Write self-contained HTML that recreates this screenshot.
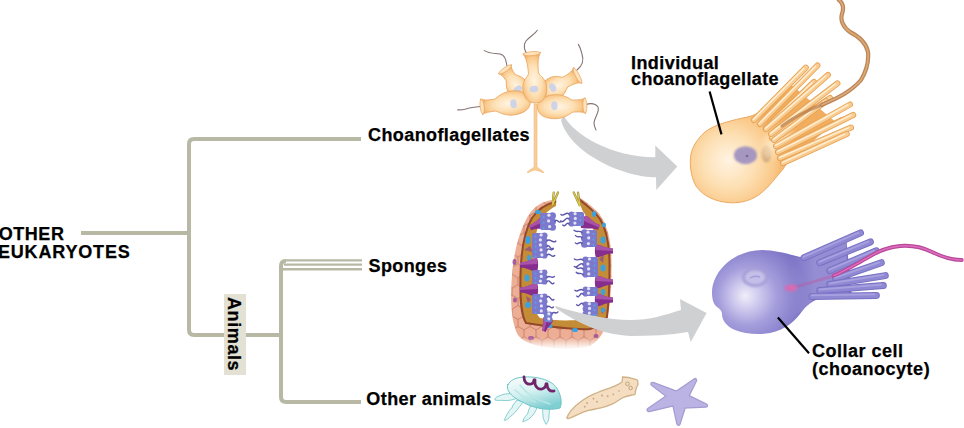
<!DOCTYPE html>
<html><head><meta charset="utf-8">
<style>
html,body{margin:0;padding:0;background:#fff;width:964px;height:428px;overflow:hidden;}
#s{position:absolute;left:0;top:0;}
.t{font-family:"Liberation Sans",sans-serif;font-weight:bold;font-size:18px;letter-spacing:0.1px;fill:#000;stroke:#000;stroke-width:0.25px;}
</style></head><body>
<svg id="s" width="964" height="428" viewBox="0 0 964 428">
<defs>
<radialGradient id="og" gradientUnits="userSpaceOnUse" cx="730" cy="162" r="58" fx="728" fy="160">
<stop offset="0" stop-color="#fff3e2"/><stop offset="0.45" stop-color="#fde0b4"/><stop offset="0.78" stop-color="#fac98a"/><stop offset="1" stop-color="#f2ad5e"/>
</radialGradient>
<radialGradient id="pg" gradientUnits="userSpaceOnUse" cx="750" cy="296" r="58" fx="745" fy="296">
<stop offset="0" stop-color="#f0eef9"/><stop offset="0.22" stop-color="#d0cbee"/><stop offset="0.5" stop-color="#a59edc"/><stop offset="0.8" stop-color="#8a82cd"/><stop offset="1" stop-color="#7a72c4"/>
</radialGradient>
<filter id="bl" x="-50%" y="-50%" width="200%" height="200%"><feGaussianBlur stdDeviation="1.1"/></filter>
<radialGradient id="cg" cx="0.5" cy="0.55" r="0.55">
<stop offset="0" stop-color="#fff4e4"/><stop offset="0.55" stop-color="#fde0b4"/><stop offset="0.85" stop-color="#f9c98c"/><stop offset="1" stop-color="#f2b26c"/>
</radialGradient>
<linearGradient id="cg2" x1="0" y1="0" x2="1" y2="0">
<stop offset="0" stop-color="#f6be7c"/><stop offset="0.5" stop-color="#fde0b4"/><stop offset="1" stop-color="#f6be7c"/>
</linearGradient>
<pattern id="hex" width="12" height="20.8" patternUnits="userSpaceOnUse" x="2" y="4">
<rect width="12" height="20.8" fill="#ecae94"/>
<path d="M6 0 L12 3.46 L12 10.39 L6 13.86 L0 10.39 L0 3.46 Z M6 13.86 L6 20.8" stroke="#c97c6a" stroke-width="0.9" fill="none"/>
</pattern>
<linearGradient id="fade" x1="0" y1="0" x2="0" y2="1">
<stop offset="0" stop-color="#fff" stop-opacity="0"/><stop offset="0.6" stop-color="#fff" stop-opacity="0.85"/><stop offset="1" stop-color="#fff" stop-opacity="1"/>
</linearGradient>
<linearGradient id="jg" x1="0.15" y1="0.1" x2="0.55" y2="1">
<stop offset="0" stop-color="#f2fafa"/><stop offset="0.45" stop-color="#d4f0f0"/><stop offset="1" stop-color="#7fcfd2"/>
</linearGradient>
<radialGradient id="neckg" cx="0.5" cy="0.5" r="0.5">
<stop offset="0" stop-color="#fff0d8" stop-opacity="0.95"/><stop offset="0.6" stop-color="#fde2b8" stop-opacity="0.6"/><stop offset="1" stop-color="#fcd8a8" stop-opacity="0"/>
</radialGradient>
<linearGradient id="palmg" gradientUnits="userSpaceOnUse" x1="790" y1="0" x2="840" y2="0">
<stop offset="0" stop-color="#9891d5" stop-opacity="0"/><stop offset="0.5" stop-color="#9891d5" stop-opacity="0.9"/><stop offset="1" stop-color="#948dd4" stop-opacity="1"/>
</linearGradient>
</defs>
<!-- tree -->
<g fill="none" stroke="#b8b9a5" stroke-width="4" stroke-linecap="butt">
<line x1="81" y1="233" x2="189" y2="233"/>
<path d="M361 139 H194 Q189 139 189 144 V330 Q189 335 194 335 H281"/>
<path d="M361 402 H286 Q281 402 281 397 V266 Q281 261 286 261"/>
</g>
<g fill="none" stroke="#b8b9a5" stroke-width="2.4">
<path d="M362 260.4 H286 Q281 260.4 281 266"/>
<line x1="284" y1="264.6" x2="362" y2="264.6"/>
<line x1="283" y1="269.2" x2="362" y2="269.2"/>
</g>
<rect x="224" y="294" width="22" height="81" fill="#e2e1d3"/>
<!-- sponge -->
<g id="sponge">
<path d="M553 200 C543 201 534 206 528 216 C520 230 514 250 512 275 C510 300 511 322 518 335 C526 347 560 352 590 346 C600 340 606 330 607.5 317 C611 300 611.5 285 611.5 270 C612 245 609 228 600 215 C593 206 584 201 578 196 Z" fill="url(#hex)"/>
<path d="M555 202 C546 204 538 209 532 218 C525 230 521 250 520.5 275 C520 300 521 315 526 323 C545 326 575 330 590 329 C600 326 604 322 607 317 C609 300 609.5 285 609.5 270 C610 245 607 230 600 219 C593 209 584 204 578 198 Z" fill="#c48c36" stroke="#94482a" stroke-width="2"/>
<g fill="#9a4e9c" opacity="0.85">
<ellipse cx="514.5" cy="262" rx="2" ry="3"/><ellipse cx="515" cy="300" rx="2" ry="2.5"/><ellipse cx="531" cy="338" rx="3" ry="2"/><ellipse cx="596" cy="336" rx="2.5" ry="2"/>
</g>
<g fill="#8a4a8c" opacity="0.7">
<path d="M524 250 l6 -4 l3 6 z"/><path d="M526 296 l5 3 l-3 5 z"/><path d="M604 255 l-5 4 l4 4 z"/><path d="M606 310 l-5 -2 l1 6 z"/>
</g>
<g fill="#3aa2e2">
<ellipse cx="528" cy="240" rx="2.6" ry="4"/><ellipse cx="527" cy="278" rx="2.5" ry="3.5"/><ellipse cx="528" cy="305" rx="3" ry="3"/>
<ellipse cx="538" cy="212" rx="3" ry="2"/><ellipse cx="603" cy="240" rx="2.5" ry="3.5"/><ellipse cx="603" cy="268" rx="2.5" ry="3.5"/><ellipse cx="603" cy="292" rx="2.2" ry="3"/><ellipse cx="594" cy="214" rx="2" ry="3"/>
<ellipse cx="575" cy="330" rx="3" ry="2"/><ellipse cx="529" cy="258" rx="2" ry="3"/><ellipse cx="530" cy="288" rx="2" ry="2.5"/><ellipse cx="604" cy="225" rx="2" ry="2.5"/><ellipse cx="603" cy="310" rx="2" ry="2.5"/><ellipse cx="550" cy="326" rx="2.5" ry="2"/>
</g>
<path d="M557 188 L556 206 C548 210 542 216 539 224 C535 234 533 250 533 280 C533 300 534 312 540 318 C555 321 580 322 597 316 C598 300 598 270 597 248 C596 232 590 220 584 213 C581 208 579 204 578 188 Z" fill="#fff"/>
<g transform="rotate(-20 546 222)"><path d="M529.0 219.5 C537.5 219.5 541.8 215.0 547.0 215.0 C548.5 218.5 548.5 225.5 547.0 229.0 C541.8 229.0 537.5 224.5 529.0 224.5 Z" fill="#862e8e"/><path d="M529.0 219.5 C537.5 219.5 541.8 215.0 547.0 215.0 L547.5 221.0 L529.0 222.0 Z" fill="#a852aa"/></g>
<g><path d="M520.0 262.5 C528.0 262.5 532.0 258.0 537.0 258.0 C538.5 261.5 538.5 268.5 537.0 272.0 C532.0 272.0 528.0 267.5 520.0 267.5 Z" fill="#862e8e"/><path d="M520.0 262.5 C528.0 262.5 532.0 258.0 537.0 258.0 L537.5 264.0 L520.0 265.0 Z" fill="#a852aa"/></g>
<g><path d="M520.0 287.5 C528.0 287.5 532.0 283.0 537.0 283.0 C538.5 286.5 538.5 293.5 537.0 297.0 C532.0 297.0 528.0 292.5 520.0 292.5 Z" fill="#862e8e"/><path d="M520.0 287.5 C528.0 287.5 532.0 283.0 537.0 283.0 L537.5 289.0 L520.0 290.0 Z" fill="#a852aa"/></g>
<g transform="rotate(20 584 222)"><path d="M600.0 219.5 C592.0 219.5 588.0 215.5 583.0 215.5 C581.5 218.8 581.5 225.2 583.0 228.5 C588.0 228.5 592.0 224.5 600.0 224.5 Z" fill="#862e8e"/><path d="M600.0 219.5 C592.0 219.5 588.0 215.5 583.0 215.5 L582.5 221.0 L600.0 222.0 Z" fill="#a852aa"/></g>
<g><path d="M613.0 248.5 C605.0 248.5 601.0 244.5 596.0 244.5 C594.5 247.8 594.5 254.2 596.0 257.5 C601.0 257.5 605.0 253.5 613.0 253.5 Z" fill="#862e8e"/><path d="M613.0 248.5 C605.0 248.5 601.0 244.5 596.0 244.5 L595.5 250.0 L613.0 251.0 Z" fill="#a852aa"/></g>
<g><path d="M613.0 279.5 C605.0 279.5 601.0 275.5 596.0 275.5 C594.5 278.8 594.5 285.2 596.0 288.5 C601.0 288.5 605.0 284.5 613.0 284.5 Z" fill="#862e8e"/><path d="M613.0 279.5 C605.0 279.5 601.0 275.5 596.0 275.5 L595.5 281.0 L613.0 282.0 Z" fill="#a852aa"/></g>
<g><path d="M613.0 297.5 C605.0 297.5 601.0 293.5 596.0 293.5 C594.5 296.8 594.5 303.2 596.0 306.5 C601.0 306.5 605.0 302.5 613.0 302.5 Z" fill="#862e8e"/><path d="M613.0 297.5 C605.0 297.5 601.0 293.5 596.0 293.5 L595.5 299.0 L613.0 300.0 Z" fill="#a852aa"/></g>
<g transform="rotate(-70 548 320)"><path d="M536.0 318.0 C542.0 318.0 545.0 315.0 549.0 315.0 C550.5 317.5 550.5 322.5 549.0 325.0 C545.0 325.0 542.0 322.0 536.0 322.0 Z" fill="#862e8e"/><path d="M536.0 318.0 C542.0 318.0 545.0 315.0 549.0 315.0 L549.5 319.0 L536.0 320.0 Z" fill="#a852aa"/></g>
<rect x="540.0" y="213.0" width="12.5" height="17.0" rx="2" fill="#7c78cc"/>
<circle cx="552.5" cy="215.8" r="3.5" fill="#7c78cc"/>
<circle cx="552.5" cy="221.5" r="3.5" fill="#7c78cc"/>
<circle cx="552.5" cy="227.2" r="3.5" fill="#7c78cc"/>
<circle cx="548.9" cy="215.2" r="1.6" fill="#e2e2f6"/>
<circle cx="543.5" cy="217.0" r="1.1" fill="#5e9fe0"/>
<circle cx="548.6" cy="220.9" r="1.6" fill="#e2e2f6"/>
<circle cx="543.5" cy="222.7" r="1.1" fill="#5e9fe0"/>
<circle cx="549.6" cy="226.6" r="1.6" fill="#e2e2f6"/>
<circle cx="543.5" cy="228.4" r="1.1" fill="#5e9fe0"/>
<path d="M555.0 221.2 C557.5 218.2 558.7 224.3 561.2 221.3" stroke="#5c56aa" stroke-width="1.4" fill="none" stroke-linecap="round"/>
<rect x="532.0" y="233.0" width="12.5" height="25.0" rx="2" fill="#7c78cc"/>
<circle cx="544.5" cy="235.5" r="3.1" fill="#7c78cc"/>
<circle cx="544.5" cy="240.5" r="3.1" fill="#7c78cc"/>
<circle cx="544.5" cy="245.5" r="3.1" fill="#7c78cc"/>
<circle cx="544.5" cy="250.5" r="3.1" fill="#7c78cc"/>
<circle cx="544.5" cy="255.5" r="3.1" fill="#7c78cc"/>
<circle cx="541.1" cy="234.9" r="1.6" fill="#e2e2f6"/>
<circle cx="535.5" cy="236.7" r="1.1" fill="#5e9fe0"/>
<circle cx="540.4" cy="239.9" r="1.6" fill="#e2e2f6"/>
<circle cx="535.5" cy="241.7" r="1.1" fill="#5e9fe0"/>
<circle cx="540.4" cy="244.9" r="1.6" fill="#e2e2f6"/>
<circle cx="535.5" cy="246.7" r="1.1" fill="#5e9fe0"/>
<circle cx="541.1" cy="249.9" r="1.6" fill="#e2e2f6"/>
<circle cx="535.5" cy="251.7" r="1.1" fill="#5e9fe0"/>
<circle cx="541.9" cy="254.9" r="1.6" fill="#e2e2f6"/>
<circle cx="535.5" cy="256.7" r="1.1" fill="#5e9fe0"/>
<path d="M547.0 240.8 C550.5 237.8 552.3 244.1 555.8 241.1" stroke="#5c56aa" stroke-width="1.4" fill="none" stroke-linecap="round"/>
<path d="M547.0 246.5 C549.5 243.5 550.7 251.2 553.1 248.2" stroke="#5c56aa" stroke-width="1.4" fill="none" stroke-linecap="round"/>
<path d="M547.0 249.8 C549.5 246.8 550.8 251.8 553.4 248.8" stroke="#5c56aa" stroke-width="1.4" fill="none" stroke-linecap="round"/>
<path d="M547.0 254.9 C550.1 251.9 551.6 258.6 554.7 255.6" stroke="#5c56aa" stroke-width="1.4" fill="none" stroke-linecap="round"/>
<rect x="532.0" y="270.0" width="12.5" height="14.0" rx="2" fill="#7c78cc"/>
<circle cx="544.5" cy="272.3" r="2.9" fill="#7c78cc"/>
<circle cx="544.5" cy="277.0" r="2.9" fill="#7c78cc"/>
<circle cx="544.5" cy="281.7" r="2.9" fill="#7c78cc"/>
<circle cx="541.0" cy="271.7" r="1.6" fill="#e2e2f6"/>
<circle cx="535.5" cy="273.5" r="1.1" fill="#5e9fe0"/>
<circle cx="541.3" cy="276.4" r="1.6" fill="#e2e2f6"/>
<circle cx="535.5" cy="278.2" r="1.1" fill="#5e9fe0"/>
<circle cx="540.4" cy="281.1" r="1.6" fill="#e2e2f6"/>
<circle cx="535.5" cy="282.9" r="1.1" fill="#5e9fe0"/>
<path d="M547.0 277.4 C549.9 274.4 551.4 279.4 554.3 276.4" stroke="#5c56aa" stroke-width="1.4" fill="none" stroke-linecap="round"/>
<path d="M547.0 281.6 C549.8 278.6 551.1 286.0 553.9 283.0" stroke="#5c56aa" stroke-width="1.4" fill="none" stroke-linecap="round"/>
<rect x="532.0" y="294.0" width="12.5" height="20.0" rx="2" fill="#7c78cc"/>
<circle cx="544.5" cy="296.5" r="3.1" fill="#7c78cc"/>
<circle cx="544.5" cy="301.5" r="3.1" fill="#7c78cc"/>
<circle cx="544.5" cy="306.5" r="3.1" fill="#7c78cc"/>
<circle cx="544.5" cy="311.5" r="3.1" fill="#7c78cc"/>
<circle cx="541.6" cy="295.9" r="1.6" fill="#e2e2f6"/>
<circle cx="535.5" cy="297.7" r="1.1" fill="#5e9fe0"/>
<circle cx="540.7" cy="300.9" r="1.6" fill="#e2e2f6"/>
<circle cx="535.5" cy="302.7" r="1.1" fill="#5e9fe0"/>
<circle cx="541.4" cy="305.9" r="1.6" fill="#e2e2f6"/>
<circle cx="535.5" cy="307.7" r="1.1" fill="#5e9fe0"/>
<circle cx="541.3" cy="310.9" r="1.6" fill="#e2e2f6"/>
<circle cx="535.5" cy="312.7" r="1.1" fill="#5e9fe0"/>
<path d="M547.0 297.0 C549.7 294.0 551.1 302.4 553.9 299.4" stroke="#5c56aa" stroke-width="1.4" fill="none" stroke-linecap="round"/>
<path d="M547.0 307.0 C549.6 304.0 550.9 310.0 553.5 307.0" stroke="#5c56aa" stroke-width="1.4" fill="none" stroke-linecap="round"/>
<rect x="571.5" y="212.0" width="12.5" height="14.0" rx="2" fill="#7c78cc"/>
<circle cx="571.5" cy="214.3" r="2.9" fill="#7c78cc"/>
<circle cx="571.5" cy="219.0" r="2.9" fill="#7c78cc"/>
<circle cx="571.5" cy="223.7" r="2.9" fill="#7c78cc"/>
<circle cx="575.1" cy="213.7" r="1.6" fill="#e2e2f6"/>
<circle cx="580.5" cy="215.5" r="1.1" fill="#5e9fe0"/>
<circle cx="575.3" cy="218.4" r="1.6" fill="#e2e2f6"/>
<circle cx="580.5" cy="220.2" r="1.1" fill="#5e9fe0"/>
<circle cx="574.9" cy="223.1" r="1.6" fill="#e2e2f6"/>
<circle cx="580.5" cy="224.9" r="1.1" fill="#5e9fe0"/>
<path d="M569.0 214.0 C565.8 211.0 564.1 217.4 560.9 214.4" stroke="#5c56aa" stroke-width="1.4" fill="none" stroke-linecap="round"/>
<path d="M569.0 218.9 C565.6 215.9 563.9 224.1 560.5 221.1" stroke="#5c56aa" stroke-width="1.4" fill="none" stroke-linecap="round"/>
<path d="M569.0 224.0 C566.5 221.0 565.3 228.0 562.8 225.0" stroke="#5c56aa" stroke-width="1.4" fill="none" stroke-linecap="round"/>
<rect x="584.5" y="230.0" width="12.5" height="17.0" rx="2" fill="#7c78cc"/>
<circle cx="584.5" cy="232.8" r="3.5" fill="#7c78cc"/>
<circle cx="584.5" cy="238.5" r="3.5" fill="#7c78cc"/>
<circle cx="584.5" cy="244.2" r="3.5" fill="#7c78cc"/>
<circle cx="588.0" cy="232.2" r="1.6" fill="#e2e2f6"/>
<circle cx="593.5" cy="234.0" r="1.1" fill="#5e9fe0"/>
<circle cx="588.7" cy="237.9" r="1.6" fill="#e2e2f6"/>
<circle cx="593.5" cy="239.7" r="1.1" fill="#5e9fe0"/>
<circle cx="588.4" cy="243.6" r="1.6" fill="#e2e2f6"/>
<circle cx="593.5" cy="245.4" r="1.1" fill="#5e9fe0"/>
<path d="M582.0 232.6 C578.8 229.6 577.2 233.2 574.0 230.2" stroke="#5c56aa" stroke-width="1.4" fill="none" stroke-linecap="round"/>
<path d="M582.0 237.8 C579.5 234.8 578.2 238.6 575.6 235.6" stroke="#5c56aa" stroke-width="1.4" fill="none" stroke-linecap="round"/>
<path d="M582.0 243.4 C579.3 240.4 578.0 245.9 575.3 242.9" stroke="#5c56aa" stroke-width="1.4" fill="none" stroke-linecap="round"/>
<rect x="585.5" y="257.0" width="12.5" height="20.0" rx="2" fill="#7c78cc"/>
<circle cx="585.5" cy="259.5" r="3.1" fill="#7c78cc"/>
<circle cx="585.5" cy="264.5" r="3.1" fill="#7c78cc"/>
<circle cx="585.5" cy="269.5" r="3.1" fill="#7c78cc"/>
<circle cx="585.5" cy="274.5" r="3.1" fill="#7c78cc"/>
<circle cx="589.5" cy="258.9" r="1.6" fill="#e2e2f6"/>
<circle cx="594.5" cy="260.7" r="1.1" fill="#5e9fe0"/>
<circle cx="587.9" cy="263.9" r="1.6" fill="#e2e2f6"/>
<circle cx="594.5" cy="265.7" r="1.1" fill="#5e9fe0"/>
<circle cx="588.6" cy="268.9" r="1.6" fill="#e2e2f6"/>
<circle cx="594.5" cy="270.7" r="1.1" fill="#5e9fe0"/>
<circle cx="588.8" cy="273.9" r="1.6" fill="#e2e2f6"/>
<circle cx="594.5" cy="275.7" r="1.1" fill="#5e9fe0"/>
<path d="M583.0 260.1 C579.6 257.1 577.8 262.0 574.4 259.0" stroke="#5c56aa" stroke-width="1.4" fill="none" stroke-linecap="round"/>
<path d="M583.0 264.2 C579.5 261.2 577.8 269.5 574.3 266.5" stroke="#5c56aa" stroke-width="1.4" fill="none" stroke-linecap="round"/>
<path d="M583.0 268.9 C580.3 265.9 579.0 270.5 576.3 267.5" stroke="#5c56aa" stroke-width="1.4" fill="none" stroke-linecap="round"/>
<path d="M583.0 274.7 C580.3 271.7 578.9 275.2 576.2 272.2" stroke="#5c56aa" stroke-width="1.4" fill="none" stroke-linecap="round"/>
<rect x="585.5" y="287.0" width="12.5" height="9.0" rx="2" fill="#7c78cc"/>
<circle cx="585.5" cy="289.2" r="2.8" fill="#7c78cc"/>
<circle cx="585.5" cy="293.8" r="2.8" fill="#7c78cc"/>
<circle cx="588.6" cy="288.6" r="1.6" fill="#e2e2f6"/>
<circle cx="594.5" cy="290.4" r="1.1" fill="#5e9fe0"/>
<circle cx="588.5" cy="293.1" r="1.6" fill="#e2e2f6"/>
<circle cx="594.5" cy="294.9" r="1.1" fill="#5e9fe0"/>
<path d="M583.0 290.2 C579.8 287.2 578.2 293.2 574.9 290.2" stroke="#5c56aa" stroke-width="1.4" fill="none" stroke-linecap="round"/>
<path d="M583.0 294.1 C580.5 291.1 579.3 299.1 576.8 296.1" stroke="#5c56aa" stroke-width="1.4" fill="none" stroke-linecap="round"/>
<rect x="585.5" y="302.0" width="12.5" height="14.0" rx="2" fill="#7c78cc"/>
<circle cx="585.5" cy="304.3" r="2.9" fill="#7c78cc"/>
<circle cx="585.5" cy="309.0" r="2.9" fill="#7c78cc"/>
<circle cx="585.5" cy="313.7" r="2.9" fill="#7c78cc"/>
<circle cx="589.3" cy="303.7" r="1.6" fill="#e2e2f6"/>
<circle cx="594.5" cy="305.5" r="1.1" fill="#5e9fe0"/>
<circle cx="589.5" cy="308.4" r="1.6" fill="#e2e2f6"/>
<circle cx="594.5" cy="310.2" r="1.1" fill="#5e9fe0"/>
<circle cx="589.3" cy="313.1" r="1.6" fill="#e2e2f6"/>
<circle cx="594.5" cy="314.9" r="1.1" fill="#5e9fe0"/>
<path d="M583.0 304.1 C580.5 301.1 579.2 307.8 576.7 304.8" stroke="#5c56aa" stroke-width="1.4" fill="none" stroke-linecap="round"/>
<rect x="544.0" y="312.0" width="5.5" height="10.0" rx="2" fill="#7c78cc"/>
<circle cx="549.5" cy="314.5" r="3.1" fill="#7c78cc"/>
<circle cx="549.5" cy="319.5" r="3.1" fill="#7c78cc"/>
<circle cx="548.8" cy="313.9" r="1.6" fill="#e2e2f6"/>
<circle cx="547.5" cy="315.7" r="1.1" fill="#5e9fe0"/>
<circle cx="548.7" cy="318.9" r="1.6" fill="#e2e2f6"/>
<circle cx="547.5" cy="320.7" r="1.1" fill="#5e9fe0"/>
<path d="M552.0 313.6 C554.4 310.6 555.6 314.9 558.0 311.9" stroke="#5c56aa" stroke-width="1.4" fill="none" stroke-linecap="round"/>
<g fill="none" stroke-linecap="round">
<path d="M553.7 192.5 L552.5 205 L558 192.5" stroke="#9a8a30" stroke-width="2.2"/>
<path d="M553.7 192.5 L552.5 205 L558 192.5" stroke="#dccc58" stroke-width="1.1"/>
<path d="M573.7 192.5 L580 206 L578 192.5" stroke="#9a8a30" stroke-width="2.2"/>
<path d="M573.7 192.5 L580 206 L578 192.5" stroke="#dccc58" stroke-width="1.1"/>
</g>
<rect x="500" y="337" width="120" height="17" fill="url(#fade)"/>
</g>
<!-- ART -->
<g id="arrows" fill="#cfd0d2">
<path d="M564 116 C574.4 135.3 611.8 157 655.3 157.3 L655.3 145.4 L677.3 166.6 L656.3 190 L656 177.3 C622.5 177.3 569.2 152.5 561 120 Z"/>
<path d="M555.6 306 C580 314 610 320 630 320 C650 320 665 315 681 310 L680 299 L706.6 313 L690.7 342 L688 332 C670 335 650 336 630 336 C600 334 578 323 555.6 308 Z"/>
</g>
<!-- colony -->
<g id="colony">
<g fill="none" stroke="#857472" stroke-width="1.1" stroke-linecap="round">
<path d="M528 56 C524 50 523 45 526 41 C529 37 535 34 537.3 30.3"/>
<path d="M507 66 C506 60 505 55 500 54 C495 53 490 54 484.3 50.6"/>
<path d="M577 70 C582 66 584 60 582 54 C581 50 580 47 578.4 44.4"/>
<path d="M484 106 C478 107 472 107 466 109 C462 110 460 110 457.7 109.9"/>
<path d="M585 105 C590 103 595 103 598 107 C600 112 594 118 594 123 C594 126 595 128 596 130"/>
</g>
<path d="M534 104 L534 167 C532 169 529 170 527 172.5 L529 172.5 C531 171 533 170.5 535.3 170 C537.5 170.5 539.5 171 542 172.5 L544 172.5 C542 170 539 169 537 167 L537 104 Z" fill="#f9cd96" stroke="#efb274" stroke-width="0.5"/>
<g transform="translate(518,88) rotate(-35)"><path d="M0 13 C7.9 13 10.5 5.9 10.5 0 C10.5 -7.2 7.0 -9.8 5.5 -12.7 C5.5 -18.4 6.0 -21.2 8 -23 L-8 -23 C-6.0 -21.2 -5.5 -18.4 -5.5 -12.7 C-7.0 -9.8 -10.5 -7.2 -10.5 0 C-10.5 5.9 -7.9 13 0 13 Z" fill="url(#cg)" stroke="#eba660" stroke-width="0.8"/><ellipse cx="0" cy="-22.5" rx="7.5" ry="2" fill="#fde2bb" stroke="#eba660" stroke-width="0.7"/><ellipse cx="-1" cy="1" rx="4.5" ry="3.2" fill="#c9d0ea" opacity="0.9"/></g>
<g transform="translate(554,88) rotate(62)"><path d="M0 13 C8.2 13 11 5.9 11 0 C11 -7.2 7.0 -9.8 5.5 -12.7 C5.5 -21.6 6.8 -24.8 9 -27 L-9 -27 C-6.8 -24.8 -5.5 -21.6 -5.5 -12.7 C-7.0 -9.8 -11 -7.2 -11 0 C-11 5.9 -8.2 13 0 13 Z" fill="url(#cg)" stroke="#eba660" stroke-width="0.8"/><ellipse cx="0" cy="-26.5" rx="8.5" ry="2" fill="#fde2bb" stroke="#eba660" stroke-width="0.7"/><ellipse cx="-1" cy="1" rx="4.5" ry="3.2" fill="#c9d0ea" opacity="0.9"/></g>
<g transform="translate(512.4,103) rotate(-97)"><path d="M0 18 C9.0 18 12 8.1 12 0 C12 -9.9 7.5 -13.5 6 -17.6 C6 -24.8 6.0 -28.5 8 -31 L-8 -31 C-6.0 -28.5 -6 -24.8 -6 -17.6 C-7.5 -13.5 -12 -9.9 -12 0 C-12 8.1 -9.0 18 0 18 Z" fill="url(#cg)" stroke="#eba660" stroke-width="0.8"/><ellipse cx="0" cy="-30.5" rx="7.5" ry="2" fill="#fde2bb" stroke="#eba660" stroke-width="0.7"/><ellipse cx="-1" cy="1" rx="4.5" ry="3.2" fill="#c9d0ea" opacity="0.9"/></g>
<g transform="translate(555.4,106.7) rotate(88)"><path d="M0 18 C9.0 18 12 8.1 12 0 C12 -9.9 7.5 -13.5 6 -17.6 C6 -24.0 6.0 -27.6 8 -30 L-8 -30 C-6.0 -27.6 -6 -24.0 -6 -17.6 C-7.5 -13.5 -12 -9.9 -12 0 C-12 8.1 -9.0 18 0 18 Z" fill="url(#cg)" stroke="#eba660" stroke-width="0.8"/><ellipse cx="0" cy="-29.5" rx="7.5" ry="2" fill="#fde2bb" stroke="#eba660" stroke-width="0.7"/><ellipse cx="-1" cy="1" rx="4.5" ry="3.2" fill="#c9d0ea" opacity="0.9"/></g>
<g transform="translate(534.8,88) rotate(-5)"><path d="M0 15 C9.0 15 12 6.8 12 0 C12 -8.2 6.5 -11.2 5 -14.7 C5 -28.0 6.8 -32.2 9 -35 L-9 -35 C-6.8 -32.2 -5 -28.0 -5 -14.7 C-6.5 -11.2 -12 -8.2 -12 0 C-12 6.8 -9.0 15 0 15 Z" fill="url(#cg)" stroke="#eba660" stroke-width="0.8"/><ellipse cx="0" cy="-34.5" rx="8.5" ry="2" fill="#fde2bb" stroke="#eba660" stroke-width="0.7"/><ellipse cx="-1" cy="1" rx="4.5" ry="3.2" fill="#c9d0ea" opacity="0.9"/></g>
</g>
<!-- animals -->
<g id="jelly">
<g fill="#e4f5f5" stroke="#86d0d2" stroke-width="1" stroke-linejoin="round">
<path d="M514 394 C508 393 503 394 499 396 C496 397 494.5 398.5 495 400 C498 401 501 400 504 400.5 C508 401 512 400 518 398 Z"/>
<path d="M517 400 C515 403 512 405 512 408 C510 409 509 411 508 413 C507 415 505 417 504.5 420.5 C507 420 509 418 511 416 C513 414 515 413 516 411 C518 409 520 406 523 402 Z"/>
<path d="M531 405 C530 408 528 410 528 413 C527 415 524 417 522.7 421.7 C525 421 528 420 530 418 C532 416 534 414 535 412 C536 410 537 408 537 406 Z"/>
<path d="M543 407 C542 410 543 413 543 416 C543 418 544 421 546.3 424.4 C548 422 549 419 549 416 C549 413 550 410 549 408 Z"/>
</g>
<path d="M508 385 C510 380 516 377.5 524 377 C533 376.5 543 378 550 382 C556 385 559 391 560.5 397 C561.5 401 561.5 405 560 408 C555 409.5 548 409.5 542.4 408.8 C537 408 532 406.5 528 404.8 C523 402.5 519 400.5 516 398.5 C511 395 508 391.5 507.5 388 C507.3 386.5 507.5 385 508 384 Z" fill="url(#jg)" stroke="#6ec4c6" stroke-width="1"/>
<g fill="none" stroke="#b8e6e6" stroke-width="1.5" stroke-linecap="round">
<path d="M520 385 C526 393 536 400 550 404"/><path d="M515 390 C520 395 526 399 535 402"/>
</g>
<g fill="none" stroke="#70246a" stroke-width="2.8" stroke-linecap="round" stroke-linejoin="round">
<path d="M524 377 C524 382 527 385 531 384 C533 383.5 534 382 534 380"/>
<path d="M535 380 C534 386 538 390 542 389 C545 388 546 386 546 384"/>
<path d="M547 384 C547 389 550 392 554 391"/>
</g>
</g>
<g id="worm">
<path d="M622.6 377 C625 377 627 377.3 629.4 377.6 C632 378.5 635 379 637.4 380 C638 381.5 638 383 638 384.4 C637 386.5 636 388.5 635.6 390.6 C635.3 392 635.2 393 635 394.3 C634 394.8 633 395 631.9 395 C628 395.8 625 396.5 622 398 C619 400 616 402.5 612 404.2 C608 406 604 407.2 600.9 407.9 C597 408.8 592 409.6 588.5 410.4 C585 411.3 582 412.5 578.6 414.1 C575 415.8 571 417.8 568.7 418.5 C567.5 418.6 566.8 418.3 566.8 417.8 C568 415 569.5 412.5 571.2 410.4 C574.5 406.5 578 403.5 582.3 400.5 C586.5 397.5 590.5 395.5 594.7 393.7 C599.5 391.5 604.5 389.8 609.6 388.1 C612.5 387 615.5 385.8 618.2 384.4 C619.6 383.6 621 382.8 622 381.9 C622.4 380.5 622.5 378.5 622.6 377 Z" fill="#f4ddc1" stroke="#cfb287" stroke-width="1.3"/>
<g fill="none" stroke="#bb9d74" stroke-width="0.9">
<circle cx="627.5" cy="383.8" r="1.8"/><circle cx="630.6" cy="388" r="1.8"/>
</g>
<g fill="#c4a47e">
<circle cx="587" cy="403" r="0.9"/><circle cx="593.5" cy="398.6" r="0.9"/><circle cx="597" cy="401.7" r="0.9"/><circle cx="602" cy="395.5" r="0.9"/><circle cx="607.7" cy="396.2" r="0.9"/><circle cx="613.3" cy="394.3" r="0.9"/><circle cx="584.8" cy="406.7" r="0.9"/><circle cx="619" cy="391" r="0.8"/>
</g>
</g>
<g id="star">
<path d="M652.5 384.0 L676.7 393.0 L695.0 380.3 L687.0 396.4 L705.8 405.5 L683.9 406.5 L678.5 423.6 L674.2 404.0 L648.7 410.0 L668.7 396.1 Z" fill="#a49cd1" stroke="#a49cd1" stroke-width="4.6" stroke-linejoin="round"/>
<path d="M652.5 384.0 L676.7 393.0 L695.0 380.3 L687.0 396.4 L705.8 405.5 L683.9 406.5 L678.5 423.6 L674.2 404.0 L648.7 410.0 L668.7 396.1 Z" fill="#bbb3e3" stroke="#bbb3e3" stroke-width="2.2" stroke-linejoin="round"/>
</g>
<!-- individual choanoflagellate -->
<g id="ochoano">
<path d="M690.3 161.7 C690 150 696 140 705 132 C715 124 733 120 749 116.7 C754 115 757 114 760 112 L792 86 L835 122 L790 160 C787 163 785 166 782.8 169.4 C776 177 770 186 760 194 C752 200 742 203 731.4 202.8 C715 202 703 196 696 186 C692 179 690.3 170 690.3 161.7 Z" fill="url(#og)" stroke="#eda95e" stroke-width="1"/>
<ellipse cx="745.5" cy="155.2" rx="11.6" ry="9" fill="#a597c0" filter="url(#bl)"/>
<circle cx="747" cy="156" r="1.3" fill="#7a6890"/>
<ellipse cx="766.5" cy="154" rx="5" ry="8.5" fill="#c29a70" opacity="0.9" filter="url(#bl)"/>
<ellipse cx="776" cy="142" rx="16" ry="26" transform="rotate(40 776 142)" fill="url(#neckg)"/>
<line x1="766.0" y1="128.0" x2="814.0" y2="82.0" stroke="#e6a052" stroke-width="6.0" stroke-linecap="round"/>
<line x1="766.0" y1="128.0" x2="814.0" y2="82.0" stroke="#f9cd92" stroke-width="4.4" stroke-linecap="round"/>
<line x1="765.4" y1="127.4" x2="812.0" y2="82.8" stroke="#fff0d6" stroke-width="1.4" stroke-linecap="round"/>
<line x1="772.0" y1="138.0" x2="830.0" y2="98.0" stroke="#e6a052" stroke-width="6.0" stroke-linecap="round"/>
<line x1="772.0" y1="138.0" x2="830.0" y2="98.0" stroke="#f9cd92" stroke-width="4.4" stroke-linecap="round"/>
<line x1="771.5" y1="137.3" x2="827.9" y2="98.5" stroke="#fff0d6" stroke-width="1.4" stroke-linecap="round"/>
<line x1="778.0" y1="152.0" x2="842.0" y2="120.0" stroke="#e6a052" stroke-width="6.0" stroke-linecap="round"/>
<line x1="778.0" y1="152.0" x2="842.0" y2="120.0" stroke="#f9cd92" stroke-width="4.4" stroke-linecap="round"/>
<line x1="777.6" y1="151.3" x2="839.9" y2="120.2" stroke="#fff0d6" stroke-width="1.4" stroke-linecap="round"/>
<line x1="754.0" y1="120.0" x2="805.8" y2="67.6" stroke="#e6a052" stroke-width="6.0" stroke-linecap="round"/>
<line x1="754.0" y1="120.0" x2="805.8" y2="67.6" stroke="#f9cd92" stroke-width="4.4" stroke-linecap="round"/>
<line x1="753.4" y1="119.4" x2="803.8" y2="68.5" stroke="#fff0d6" stroke-width="1.4" stroke-linecap="round"/>
<line x1="760.0" y1="124.0" x2="817.4" y2="65.5" stroke="#e6a052" stroke-width="6.0" stroke-linecap="round"/>
<line x1="760.0" y1="124.0" x2="817.4" y2="65.5" stroke="#f9cd92" stroke-width="4.4" stroke-linecap="round"/>
<line x1="759.4" y1="123.4" x2="815.4" y2="66.4" stroke="#fff0d6" stroke-width="1.4" stroke-linecap="round"/>
<line x1="766.0" y1="129.0" x2="827.9" y2="75.0" stroke="#e6a052" stroke-width="6.0" stroke-linecap="round"/>
<line x1="766.0" y1="129.0" x2="827.9" y2="75.0" stroke="#f9cd92" stroke-width="4.4" stroke-linecap="round"/>
<line x1="765.5" y1="128.4" x2="825.9" y2="75.7" stroke="#fff0d6" stroke-width="1.4" stroke-linecap="round"/>
<line x1="771.0" y1="134.0" x2="837.4" y2="83.4" stroke="#e6a052" stroke-width="6.0" stroke-linecap="round"/>
<line x1="771.0" y1="134.0" x2="837.4" y2="83.4" stroke="#f9cd92" stroke-width="4.4" stroke-linecap="round"/>
<line x1="770.5" y1="133.4" x2="835.3" y2="84.0" stroke="#fff0d6" stroke-width="1.4" stroke-linecap="round"/>
<line x1="774.0" y1="140.0" x2="826.0" y2="101.0" stroke="#e6a052" stroke-width="6.0" stroke-linecap="round"/>
<line x1="774.0" y1="140.0" x2="826.0" y2="101.0" stroke="#f9cd92" stroke-width="4.4" stroke-linecap="round"/>
<line x1="773.5" y1="139.4" x2="823.9" y2="101.6" stroke="#fff0d6" stroke-width="1.4" stroke-linecap="round"/>
<line x1="776.0" y1="146.0" x2="850.0" y2="104.5" stroke="#e6a052" stroke-width="6.0" stroke-linecap="round"/>
<line x1="776.0" y1="146.0" x2="850.0" y2="104.5" stroke="#f9cd92" stroke-width="4.4" stroke-linecap="round"/>
<line x1="775.6" y1="145.3" x2="847.9" y2="104.8" stroke="#fff0d6" stroke-width="1.4" stroke-linecap="round"/>
<line x1="778.0" y1="152.0" x2="853.2" y2="115.0" stroke="#e6a052" stroke-width="6.0" stroke-linecap="round"/>
<line x1="778.0" y1="152.0" x2="853.2" y2="115.0" stroke="#f9cd92" stroke-width="4.4" stroke-linecap="round"/>
<line x1="777.6" y1="151.3" x2="851.1" y2="115.2" stroke="#fff0d6" stroke-width="1.4" stroke-linecap="round"/>
<line x1="780.0" y1="158.0" x2="851.0" y2="127.6" stroke="#e6a052" stroke-width="6.0" stroke-linecap="round"/>
<line x1="780.0" y1="158.0" x2="851.0" y2="127.6" stroke="#f9cd92" stroke-width="4.4" stroke-linecap="round"/>
<line x1="779.7" y1="157.3" x2="848.8" y2="127.7" stroke="#fff0d6" stroke-width="1.4" stroke-linecap="round"/>
<line x1="783.0" y1="163.0" x2="846.8" y2="134.0" stroke="#e6a052" stroke-width="6.0" stroke-linecap="round"/>
<line x1="783.0" y1="163.0" x2="846.8" y2="134.0" stroke="#f9cd92" stroke-width="4.4" stroke-linecap="round"/>
<line x1="782.7" y1="162.3" x2="844.6" y2="134.1" stroke="#fff0d6" stroke-width="1.4" stroke-linecap="round"/>

<path d="M782 126 C795 116 808 110 822 104.7" fill="none" stroke="#b98050" stroke-width="3.2" stroke-linecap="round" opacity="0.75"/>
<path d="M822 104.7 C838 98 851 91.6 861 80 C867 70 869 62 868 52 C866 42 858 36 850 32 C843 27 840 20 842 14 C844 8 843 3 838.8 0" fill="none" stroke="#bd8656" stroke-width="4.2" stroke-linecap="round"/>
<path d="M822 104.7 C838 98 851 91.6 861 80 C867 70 869 62 868 52 C866 42 858 36 850 32 C843 27 840 20 842 14 C844 8 843 3 838.8 0" fill="none" stroke="#dcaa7a" stroke-width="1.6" stroke-linecap="round"/>
</g>
<!-- collar cell -->
<g id="pcell">
<path d="M712 292 C712 282 718 270 728 262 C738 254 750 250 762 250 C775 250 788 254 800 257 C804 258 806 258 808 257 L846 236 L852 296 L824 297 C815 299 808 304 803 310 C796 320 786 330 770 333 C758 335 745 334 735 330 C726 326 722 320 722 314 C722 311 720 309 717 307 C713 304 712 298 712 292 Z" fill="url(#pg)"/>
<ellipse cx="755" cy="277.4" rx="11.5" ry="8.2" fill="#c4bfe8" stroke="#a49dd6" stroke-width="2.6" filter="url(#bl)"/>
<path d="M750 278 C753 276 757 276 760 277" stroke="#a59ed8" stroke-width="1.5" fill="none"/>
<path d="M785 256 C795 257 802 258 806 257 L846 240 L848 296 L816 298 C810 302 806 306 802 311 L785 320 Z" fill="url(#palmg)"/>
<path d="M792 288 C805 284 820 280 833.7 275.6 C845 271 858 263 869.4 256.7" fill="none" stroke="#c0529e" stroke-width="3" stroke-linecap="round" opacity="0.4"/>
<line x1="804.0" y1="257.7" x2="860.5" y2="232.9" stroke="#7870c2" stroke-width="7.0" stroke-linecap="round"/>
<line x1="804.0" y1="257.7" x2="860.5" y2="232.9" stroke="#8f89d3" stroke-width="5.2" stroke-linecap="round"/>
<line x1="803.6" y1="256.8" x2="858.3" y2="232.8" stroke="#a7a1e0" stroke-width="1.8" stroke-linecap="round"/>
<line x1="819.8" y1="262.7" x2="870.4" y2="241.9" stroke="#7870c2" stroke-width="7.0" stroke-linecap="round"/>
<line x1="819.8" y1="262.7" x2="870.4" y2="241.9" stroke="#8f89d3" stroke-width="5.2" stroke-linecap="round"/>
<line x1="819.4" y1="261.8" x2="868.2" y2="241.7" stroke="#a7a1e0" stroke-width="1.8" stroke-linecap="round"/>
<line x1="829.8" y1="270.6" x2="876.4" y2="250.8" stroke="#7870c2" stroke-width="7.0" stroke-linecap="round"/>
<line x1="829.8" y1="270.6" x2="876.4" y2="250.8" stroke="#8f89d3" stroke-width="5.2" stroke-linecap="round"/>
<line x1="829.4" y1="269.7" x2="874.2" y2="250.7" stroke="#a7a1e0" stroke-width="1.8" stroke-linecap="round"/>
<line x1="835.7" y1="278.6" x2="881.3" y2="262.7" stroke="#7870c2" stroke-width="7.0" stroke-linecap="round"/>
<line x1="835.7" y1="278.6" x2="881.3" y2="262.7" stroke="#8f89d3" stroke-width="5.2" stroke-linecap="round"/>
<line x1="835.4" y1="277.7" x2="879.1" y2="262.4" stroke="#a7a1e0" stroke-width="1.8" stroke-linecap="round"/>
<line x1="829.8" y1="284.5" x2="885.3" y2="275.6" stroke="#7870c2" stroke-width="7.0" stroke-linecap="round"/>
<line x1="829.8" y1="284.5" x2="885.3" y2="275.6" stroke="#8f89d3" stroke-width="5.2" stroke-linecap="round"/>
<line x1="829.6" y1="283.5" x2="883.2" y2="274.9" stroke="#a7a1e0" stroke-width="1.8" stroke-linecap="round"/>
<line x1="819.8" y1="290.5" x2="883.3" y2="285.5" stroke="#7870c2" stroke-width="7.0" stroke-linecap="round"/>
<line x1="819.8" y1="290.5" x2="883.3" y2="285.5" stroke="#8f89d3" stroke-width="5.2" stroke-linecap="round"/>
<line x1="819.7" y1="289.5" x2="881.2" y2="284.7" stroke="#a7a1e0" stroke-width="1.8" stroke-linecap="round"/>
<line x1="811.9" y1="296.4" x2="876.4" y2="295.4" stroke="#7870c2" stroke-width="7.0" stroke-linecap="round"/>
<line x1="811.9" y1="296.4" x2="876.4" y2="295.4" stroke="#8f89d3" stroke-width="5.2" stroke-linecap="round"/>
<line x1="811.9" y1="295.4" x2="874.4" y2="294.4" stroke="#a7a1e0" stroke-width="1.8" stroke-linecap="round"/>
<path d="M833.7 275.6 C845 271 858 263 869.4 256.7 C880 250 890 247 900 246 C912 245 922 247 932 252 C942 257 952 260 961.8 260" fill="none" stroke="#b8489a" stroke-width="3.8" stroke-linecap="round"/>
<path d="M833.7 275.6 C845 271 858 263 869.4 256.7 C880 250 890 247 900 246 C912 245 922 247 932 252 C942 257 952 260 961.8 260" fill="none" stroke="#de6cbe" stroke-width="1.4" stroke-linecap="round"/>
<ellipse cx="791" cy="288" rx="6.5" ry="3.6" fill="#d66cb2" filter="url(#bl)"/>
</g>
<!-- labels -->
<text class="t" x="-1.2" y="240.3" style="letter-spacing:0.52px">OTHER</text>
<text class="t" x="-2.1" y="257.9" style="letter-spacing:0.83px">EUKARYOTES</text>
<text class="t" x="368" y="141" style="letter-spacing:0.41px">Choanoflagellates</text>
<text class="t" x="368.5" y="271.5" style="letter-spacing:0.4px">Sponges</text>
<text class="t" x="366.3" y="405" style="letter-spacing:0.42px">Other animals</text>
<text class="t" x="631" y="68.6" style="letter-spacing:0.43px">Individual</text>
<text class="t" x="631" y="85.4" style="letter-spacing:0.37px">choanoflagellate</text>
<text class="t" x="812" y="357" style="letter-spacing:0.5px">Collar cell</text>
<text class="t" x="812" y="374.5" style="letter-spacing:0.51px">(choanocyte)</text>
<text class="t" transform="translate(227.5,297) rotate(90)" x="0" y="0" style="letter-spacing:0.6px">Animals</text>
<!-- pointers -->
<line x1="709.6" y1="91.5" x2="721.5" y2="134.4" stroke="#000" stroke-width="2.2"/>
<line x1="777.9" y1="317.5" x2="809" y2="353.3" stroke="#000" stroke-width="2.2"/>
</svg>
</body></html>
